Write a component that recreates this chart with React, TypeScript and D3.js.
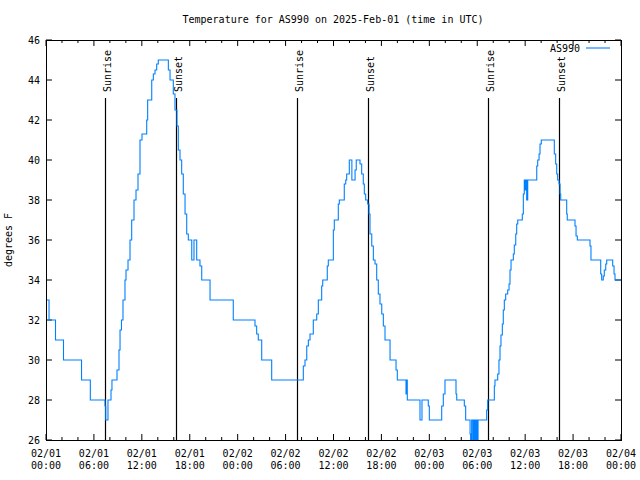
import React from "react";
import * as d3 from "d3";

const title = "Temperature for AS990 on 2025-Feb-01 (time in UTC)";
const seriesName = "AS990";
const yLabel = "degrees F";
const startIso = "2025-02-01T00:00:00Z";
const spanHours = 72;

// hours since start at which each reading begins, and the reading (°F)
const hours = [
  0, 0.38, 1.19, 2.19, 4.45, 5.55, 7.39, 7.48, 7.76, 8.14, 8.26, 8.89, 9.14, 9.27, 9.45, 9.64,
  9.89, 10.02, 10.27, 10.52, 10.73, 11.02, 11.27, 11.52, 11.77, 12.02, 12.61, 12.73, 13.24, 13.44,
  13.65, 13.86, 14.06, 15.32, 15.53, 15.94, 16.15, 16.4, 16.57, 16.78, 16.99, 17.19, 17.41, 17.62,
  17.82, 18.25, 18.53, 18.87, 19.28, 19.5, 20.54, 23.45, 26.17, 26.38, 26.58, 27.01, 28.26, 32.22,
  32.43, 32.65, 32.85, 33.06, 33.47, 33.9, 34.1, 34.52, 34.65, 35.22, 35.35, 35.98, 36.1, 36.6,
  36.73, 37.35, 37.53, 37.65, 37.98, 38.3, 38.7, 38.85, 39.32, 39.53, 39.73, 39.86, 40.03, 40.28,
  40.45, 40.57, 40.79, 40.99, 41.2, 41.41, 41.61, 41.82, 42.04, 42.24, 42.45, 43.08, 43.83, 43.99,
  45.08, 45.17, 45.24, 46.83, 47.08, 47.87, 48.0, 49.55, 49.75, 49.96, 51.34, 51.43, 52.38, 52.55,
  53.1, 53.17, 53.3, 53.45, 53.58, 53.72, 53.85, 53.98, 54.1, 55.18, 55.31, 56.14, 56.22, 56.56,
  56.72, 56.85, 56.97, 57.14, 57.26, 57.39, 57.56, 57.81, 57.98, 58.1, 58.23, 58.52, 58.64, 58.82,
  58.94, 59.07, 59.64, 59.77, 59.89, 59.98, 60.11, 60.19, 60.32, 61.45, 61.57, 61.74, 61.86, 62.02,
  63.65, 63.82, 63.95, 64.07, 64.24, 64.37, 64.45, 65.2, 65.27, 66.24, 66.37, 66.53, 68.12, 68.24,
  69.46, 69.58, 69.78, 69.91, 70.09, 70.21, 70.96, 71.13, 71.25, 72,
];
const tempF = [
  33, 32, 31, 30, 29, 28, 27.7, 27, 28, 28.5, 29, 29.5, 30.5, 31.5, 32, 33,
  34, 34.5, 35, 36, 37, 38, 38.5, 39.3, 41, 41.3, 42, 43, 44, 44.3,
  44.5, 44.8, 45, 44.5, 44, 43.3, 42.5, 41.7, 40.5, 40, 39.3, 38.3, 37.3, 36.3,
  36, 35, 36, 35, 34.7, 34, 33, 32, 31.7, 31.3, 31, 30, 29, 29.7,
  30, 30.7, 31, 31.3, 32, 32.3, 33, 33.7, 34, 34.7, 35, 36.5, 37, 37.8,
  38, 38.8, 39, 39.3, 40, 39, 39.5, 40, 39.8, 39.3, 38.8, 38.3, 38, 37.8,
  37.3, 36.3, 35.7, 35, 34.8, 34, 33.3, 32.8, 32.3, 31.7, 31, 30, 29.5, 29,
  28.3, 29, 28, 27, 28, 27.7, 27, 27.7, 28.3, 29, 28.3, 28, 27.7, 27,
  26.3, 26, 27, 26, 27, 26, 27, 26, 27, 27.5, 28, 28.7, 29, 29.3,
  30, 30.7, 31.25, 31.8, 32.5, 33, 33.3, 33.5, 33.8, 34.5, 35, 35.3, 35.75, 36.3,
  36.8, 37, 37.3, 38.3, 39, 38.5, 39, 38, 39, 39.7, 40, 40.3, 40.8, 41,
  40.3, 39.8, 39.3, 39, 38.8, 38.3, 38, 37.3, 37, 36.7, 36.2, 36, 35.7, 35,
  34.3, 34, 34.2, 34.5, 34.8, 35, 34.7, 34.3, 34, 34,
];

const sunriseHours = [7.38, 31.42, 55.4];
const sunsetHours = [16.28, 40.28, 64.28];
const yTicks = [26, 28, 30, 32, 34, 36, 38, 40, 42, 44, 46];

const W = 640;
const H = 480;
const M = { left: 46, right: 621, top: 40, bottom: 440 };
const FONT = "'DejaVu Sans Mono', monospace";
const LINE_COLOR = "#0080ff";

export default function App() {
  const start = new Date(startIso).getTime();
  const toDate = (h: number) => new Date(start + h * 3600e3);
  const x = d3
    .scaleUtc()
    .domain([toDate(0), toDate(spanHours)])
    .range([M.left, M.right]);
  const y = d3.scaleLinear().domain([26, 46]).range([M.bottom, M.top]);

  const pts: [Date, number][] = hours.map((h, i) => [toDate(h), tempF[i]]);
  const line = d3
    .line<[Date, number]>()
    .x((d) => x(d[0]))
    .y((d) => y(d[1]))
    .curve(d3.curveStepAfter);

  const majorTicks = x.ticks(d3.utcHour.every(6)!);
  const minorTicks = x.ticks(d3.utcHour.every(2)!).filter((t) => t.getUTCHours() % 6 !== 0);
  const fmtDay = d3.utcFormat("%m/%d");
  const fmtTime = d3.utcFormat("%H:%M");

  const events = [
    ...sunriseHours.map((h) => ({ h, label: "Sunrise" })),
    ...sunsetHours.map((h) => ({ h, label: "Sunset" })),
  ];

  return (
    <svg
      width={W}
      height={H}
      style={{ position: "fixed", left: 0, top: 0, background: "#fff" }}
      fontFamily={FONT}
      fontSize={10}
    >
      <rect x={0} y={0} width={W} height={H} fill="#fff" />
      <defs>
        <clipPath id="plotclip">
          <rect x={M.left} y={M.top} width={M.right - M.left} height={M.bottom - M.top} />
        </clipPath>
      </defs>

      <text x={333} y={23} textAnchor="middle" fill="#000">
        {title}
      </text>

      {yTicks.map((t) => (
        <g key={"y" + t}>
          <line x1={M.left} x2={M.left + 6} y1={y(t)} y2={y(t)} stroke="#000" />
          <line x1={M.right - 6} x2={M.right} y1={y(t)} y2={y(t)} stroke="#000" />
          <text x={40} y={y(t) + 4} textAnchor="end" fill="#000">
            {t}
          </text>
        </g>
      ))}

      {majorTicks.map((t, i) => (
        <g key={"xm" + i}>
          <line x1={x(t)} x2={x(t)} y1={M.bottom} y2={M.bottom - 6} stroke="#000" />
          <line x1={x(t)} x2={x(t)} y1={M.top} y2={M.top + 6} stroke="#000" />
          <text x={x(t)} y={457} textAnchor="middle" fill="#000">
            {fmtDay(t)}
          </text>
          <text x={x(t)} y={469} textAnchor="middle" fill="#000">
            {fmtTime(t)}
          </text>
        </g>
      ))}
      {minorTicks.map((t, i) => (
        <g key={"xn" + i}>
          <line x1={x(t)} x2={x(t)} y1={M.bottom} y2={M.bottom - 3} stroke="#000" />
          <line x1={x(t)} x2={x(t)} y1={M.top} y2={M.top + 3} stroke="#000" />
        </g>
      ))}

      <text transform={`translate(12,240) rotate(-90)`} textAnchor="middle" fill="#000">
        {yLabel}
      </text>

      {events.map((e, i) => {
        const ex = Math.round(x(toDate(e.h))) + 0.5;
        return (
          <g key={"ev" + i}>
            <line x1={ex} x2={ex} y1={98} y2={M.bottom} stroke="#000" strokeWidth={1.2} />
            <text transform={`translate(${ex + 5},92) rotate(-90)`} textAnchor="start" fill="#000">
              {e.label}
            </text>
          </g>
        );
      })}

      <path
        d={line(pts) || ""}
        fill="none"
        stroke={LINE_COLOR}
        strokeWidth={1.1}
        clipPath="url(#plotclip)"
      />

      <text x={580} y={52} textAnchor="end" fill="#000">
        {seriesName}
      </text>
      <line x1={586} x2={610} y1={48} y2={48} stroke={LINE_COLOR} strokeWidth={1.1} />

      <rect
        x={M.left + 0.5}
        y={M.top + 0.5}
        width={M.right - M.left}
        height={M.bottom - M.top}
        fill="none"
        stroke="#000"
        strokeWidth={1}
      />
    </svg>
  );
}
